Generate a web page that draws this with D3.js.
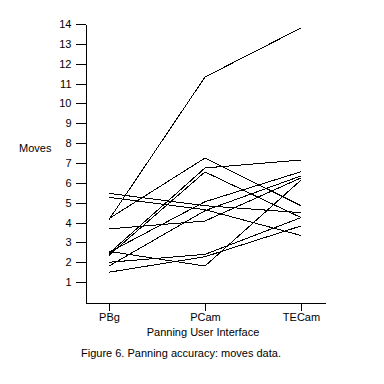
<!DOCTYPE html>
<html>
<head>
<meta charset="utf-8">
<script src="https://cdn.jsdelivr.net/npm/d3@7"></script>
<style>
  body { margin: 0; background: #fff; }
  svg { font-family: "Liberation Sans", Arial, sans-serif; }
  .tick text { font-size: 11px; fill: #000; }
</style>
</head>
<body>
<div id="chart"></div>
<script>
const interfaces = ["PBg", "PCam", "TECam"];
const yTicks = [1, 2, 3, 4, 5, 6, 7, 8, 9, 10, 11, 12, 13, 14];

// one row per subject: moves for PBg, PCam, TECam
const subjectA = [4.15, 11.33, 13.8];
const subjectB = [4.2, 7.25, 4.85];
const subjectC = [2.45, 6.75, 7.15];
const subjectD = [2.35, 6.55, 4.25];
const subjectE = [5.47, 4.85, 4.5];
const subjectF = [5.27, 4.65, 3.35];
const subjectG = [3.68, 4.08, 6.25];
const subjectH = [2.5, 5.05, 6.56];
const subjectI = [1.81, 4.6, 6.35];
const subjectJ = [2.55, 1.81, 6.14];
const subjectK = [2.0, 2.4, 4.25];
const subjectL = [1.5, 2.28, 3.83];

const subjects = [subjectA, subjectB, subjectC, subjectD, subjectE, subjectF,
                  subjectG, subjectH, subjectI, subjectJ, subjectK, subjectL];

const width = 384, height = 384;

const svg = d3.select("#chart")
    .append("svg")
        .attr("width", width)
        .attr("height", height);

const x = d3.scalePoint()
    .domain(interfaces)
    .range([85, 325])
    .padding(0.25);

const y = d3.scaleLinear()
    .domain([0, 14])
    .range([302, 24]);

const line = d3.line()
    .x((d, i) => x(interfaces[i]))
    .y(d => y(d));

svg.append("g")
    .attr("fill", "none")
    .attr("stroke", "#000")
    .attr("stroke-width", 1)
    .attr("shape-rendering", "crispEdges")
    .selectAll("path")
    .data(subjects)
    .join("path")
        .attr("d", line);

svg.append("g")
    .attr("transform", "translate(85.5,0)")
    .call(d3.axisLeft(y).tickValues(yTicks).tickSize(10).tickSizeOuter(0).tickPadding(4))
    .call(g => g.select(".domain").attr("stroke", "#000"))
    .call(g => g.selectAll(".tick line").attr("stroke", "#000").attr("shape-rendering", "crispEdges"))
    .call(g => g.select(".domain").attr("shape-rendering", "crispEdges"));

svg.append("g")
    .attr("transform", "translate(0,302.5)")
    .call(d3.axisBottom(x).tickSize(8).tickSizeOuter(0).tickPadding(3))
    .call(g => g.select(".domain").attr("stroke", "#000").attr("shape-rendering", "crispEdges"))
    .call(g => g.selectAll(".tick line").attr("stroke", "#000").attr("shape-rendering", "crispEdges"));

svg.append("text")
    .attr("x", 19)
    .attr("y", 152)
    .attr("font-size", 11)
    .text("Moves");

svg.append("text")
    .attr("x", 203)
    .attr("y", 336)
    .attr("text-anchor", "middle")
    .attr("font-size", 11)
    .text("Panning User Interface");

svg.append("text")
    .attr("x", 181)
    .attr("y", 357)
    .attr("text-anchor", "middle")
    .attr("font-size", 11)
    .text("Figure 6. Panning accuracy: moves data.");
</script>
</body>
</html>
